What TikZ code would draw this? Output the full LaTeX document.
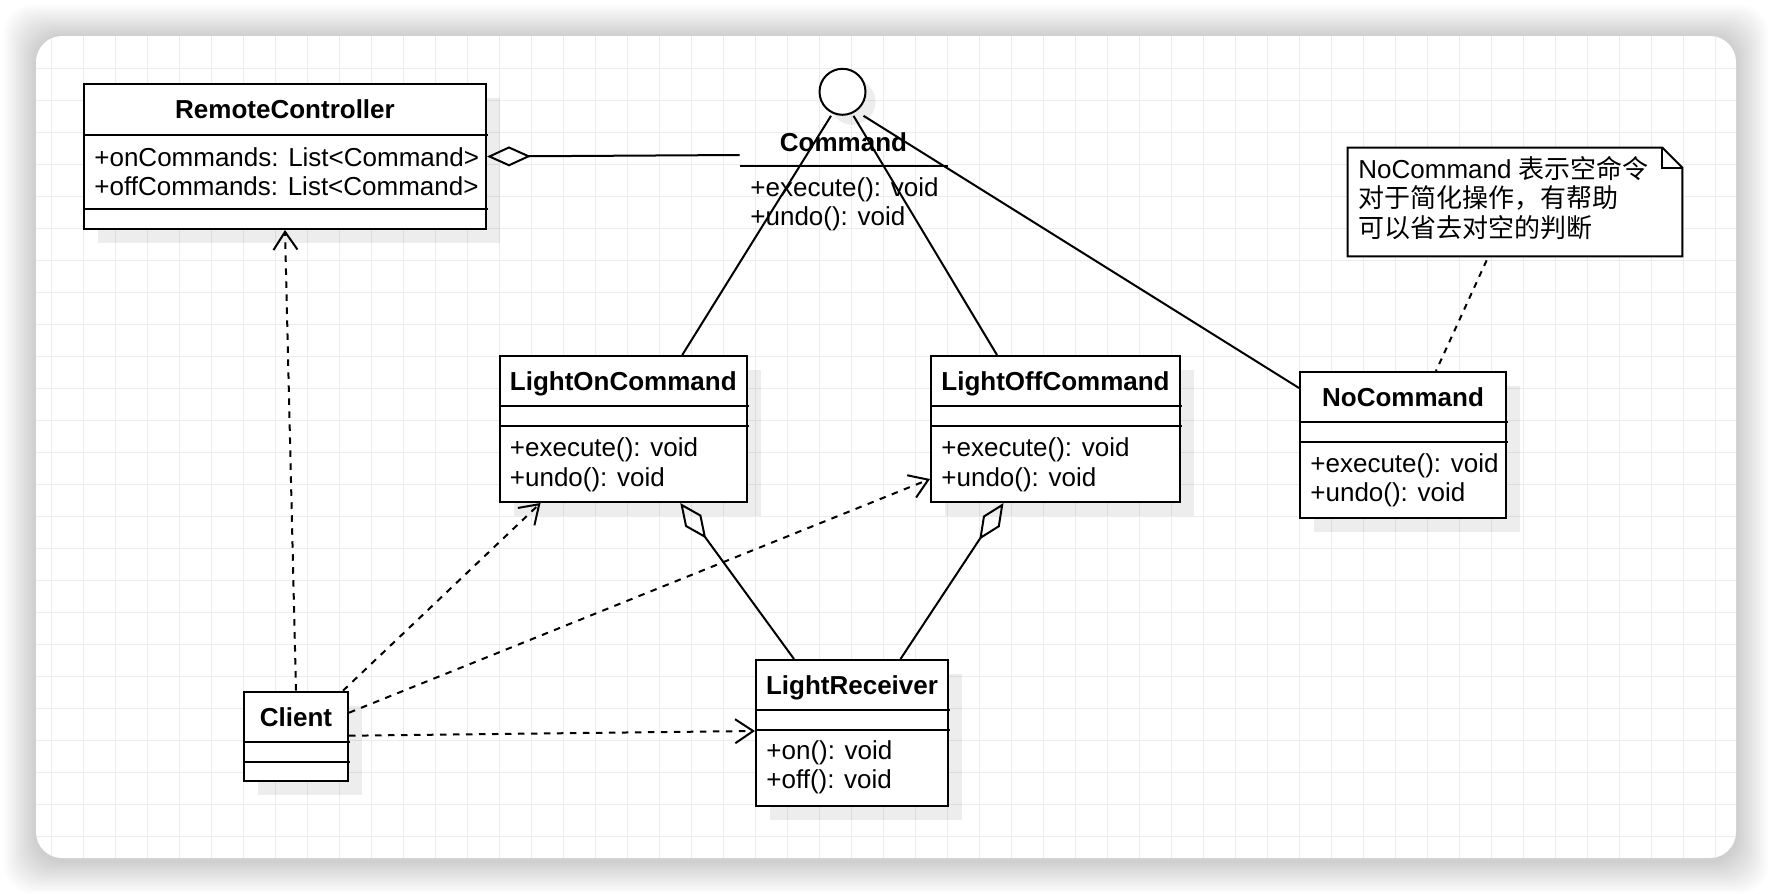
\documentclass[tikz,border=0pt]{standalone}
\usepackage{fontspec}
\setmainfont{Liberation Sans}
\newfontfamily\cjk{Noto Sans CJK SC}
\usepackage{tikz}
\usetikzlibrary{arrows.meta, calc, fit, shadows}
\definecolor{gridgray}{RGB}{236, 236, 236}
\definecolor{inkblack}{RGB}{0, 0, 0}
\tikzset{
  gridline/.style={draw=gridgray, line width=0.75pt},
  umlbox/.style={draw=inkblack, line width=1pt, fill=white, inner sep=0pt,
    drop shadow={shadow xshift=7pt, shadow yshift=-7pt, fill=black, opacity=0.07}},
  classname/.style={font=\fontsize{13}{14.7}\selectfont\bfseries, inner sep=0pt, anchor=base},
  members/.style={font=\fontsize{13}{14.7}\selectfont, align=left, anchor=west, inner sep=0pt, inner xsep=5pt},
  divider/.style={line width=1pt},
  depend/.style={line width=1pt, dash pattern=on 3.25pt off 3.25pt,
    -{Straight Barb[length=9pt, width=12pt]}},
  aggr/.style={line width=1pt, {Diamond[open, length=22pt, width=10pt]}-},
  realize/.style={line width=1pt},
  notelink/.style={line width=1pt, dash pattern=on 3pt off 3pt},
}

\begin{document}
\begin{tikzpicture}[x=0.5pt, y=-0.5pt]
  \useasboundingbox (0,0) rectangle (1772,894);
  \fill[white] (0,0) rectangle (1772,894);

  % Canvas with soft shadow and grid
  \foreach \s in {1,...,16}
    \fill[black, opacity=0.011, rounded corners=14pt] ({36-2*\s},{37-2*\s}) rectangle ({1736+2*\s},{861+2*\s});
  \fill[white, rounded corners=13pt] (36,36) rectangle (1736,858);
  \begin{scope}
    \clip[rounded corners=13pt] (36,36) rectangle (1736,858);
    \foreach \k in {0,...,52}
      \draw[gridline] ({51.7+32*\k},36) -- ({51.7+32*\k},858);
    \foreach \k in {0,...,24}
      \draw[gridline] (36,{68.3+32*\k}) -- (1736,{68.3+32*\k});
  \end{scope}

  % RemoteController
  \node[umlbox, fit={(84,84) (486,229)}] (rc) {};
  \node[classname] at (285,118.4) {RemoteController};
  \draw[divider] (84,134.5) -- (488,134.5);
  \draw[divider] (84,209) -- (488,209);
  \node[members] at (84,172) {+onCommands: List<Command>\\+offCommands: List<Command>};

  % Command (interface)
  \node[circle, draw=inkblack, line width=1pt, fill=white, minimum size=23pt, inner sep=0pt,
    drop shadow={shadow xshift=5pt, shadow yshift=-5pt, fill=black, opacity=0.07}] (circ) at (842.5,91.8) {};
  \node[fit={(740,116) (948,194)}, inner sep=0pt] (cmd) {};
  \node[classname] at (843.5,151) {Command};
  \draw[divider] (740,165.7) -- (948,165.7);
  \node[members] at (740,204) {+execute(): void\\+undo(): void};

  % LightOnCommand
  \node[umlbox, fit={(499.5,356) (747,502)}] (lon) {};
  \node[classname] at (623.3,390.4) {LightOnCommand};
  \draw[divider] (499.5,405.7) -- (749,405.7);
  \draw[divider] (499.5,426) -- (749,426);
  \node[members] at (499.5,464.7) {+execute(): void\\+undo(): void};

  % LightOffCommand
  \node[umlbox, fit={(931,356) (1180,502)}] (loff) {};
  \node[classname] at (1055.5,390.4) {LightOffCommand};
  \draw[divider] (931,405.7) -- (1182,405.7);
  \draw[divider] (931,426) -- (1182,426);
  \node[members] at (931,464.7) {+execute(): void\\+undo(): void};

  % NoCommand
  \node[umlbox, fit={(1300,372) (1506,518)}] (nocmd) {};
  \node[classname] at (1403,406.4) {NoCommand};
  \draw[divider] (1300,422) -- (1508,422);
  \draw[divider] (1300,442) -- (1508,442);
  \node[members] at (1300,480.4) {+execute(): void\\+undo(): void};

  % LightReceiver
  \node[umlbox, fit={(756,660) (948,806)}] (lr) {};
  \node[classname] at (852,694.4) {LightReceiver};
  \draw[divider] (756,709.6) -- (950,709.6);
  \draw[divider] (756,730) -- (950,730);
  \node[members] at (756,767.4) {+on(): void\\+off(): void};

  % Client
  \node[umlbox, fit={(244,691.7) (348,781)}] (cl) {};
  \node[classname] at (296,726.4) {Client};
  \draw[divider] (244,742) -- (350,742);
  \draw[divider] (244,762) -- (350,762);

  % Note
  \node[fit={(1348,148) (1682,256)}, inner sep=0pt] (note) {};
  \draw[line width=1pt, fill=white] (note.north west) -- ($(note.north east)+(-20,0)$)
    -- ($(note.north east)+(0,20)$) -- (note.south east) -- (note.south west) -- cycle;
  \draw[line width=1pt] ($(note.north east)+(-20,0)$) -- ($(note.north east)+(-20,20)$) -- ($(note.north east)+(0,20)$);
  \node[members] at (1348,198) {NoCommand {\cjk 表示空命令}\\{\cjk 对于简化操作，有帮助}\\{\cjk 可以省去对空的判断}};

  % Connectors
  \draw[aggr] (rc.east) -- (cmd.west);
  \draw[realize] ($(circ.south)+(-11.5,0)$) -- ($(lon.north)+(59,0)$);
  \draw[realize] ($(circ.south)+(11,0)$) -- ($(loff.north)+(-58.5,0)$);
  \draw[realize] ($(circ.south)+(21,0)$) -- ($(nocmd.north west)+(0,17)$);
  \draw[aggr] ($(lon.south)+(57,0)$) -- ($(lr.north)+(-58,0)$);
  \draw[aggr] ($(loff.south)+(-52,0)$) -- ($(lr.north)+(48.5,0)$);
  \draw[depend] (cl.north) -- (rc.south);
  \draw[depend] ($(cl.north east)+(-6,0)$) -- ($(lon.south west)+(42,0)$);
  \draw[depend] ($(cl.north east)+(0,22)$) -- ($(loff.south west)+(0,-24)$);
  \draw[depend] ($(cl.north east)+(0,45)$) -- ($(lr.west)+(0,-2)$);
  \draw[notelink] ($(note.south west)+(139,4)$) -- ($(nocmd.north)+(33,0)$);
\end{tikzpicture}
\end{document}
